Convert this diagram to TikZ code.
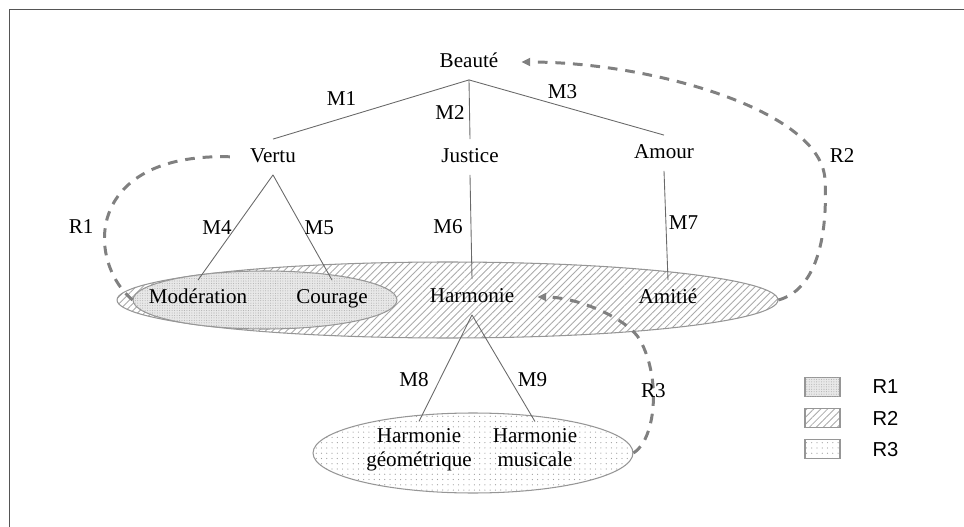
\documentclass[tikz,border=0pt]{standalone}
\usepackage{fontspec}
\setmainfont{Liberation Serif}
\newfontfamily\keyfont{Liberation Sans}
\usetikzlibrary{positioning, arrows.meta, shapes.geometric, patterns.meta}
\definecolor{FrameGrey}{RGB}{85, 85, 85}
\definecolor{LinkGrey}{RGB}{128, 128, 128}
\definecolor{TreeGrey}{RGB}{105, 105, 105}
\definecolor{EdgeGrey}{RGB}{150, 150, 150}
\definecolor{HatchGrey}{RGB}{170, 170, 170}
\definecolor{DotGrey}{RGB}{175, 175, 175}
\definecolor{SpeckGrey}{RGB}{160, 160, 160}
\definecolor{ShadeGrey}{RGB}{232, 232, 232}

\begin{document}
\begin{tikzpicture}[
    x=0.02cm, y=-0.02cm,
    % Global Styles
    concept/.style={
        font=\fontsize{12}{13.6}\selectfont,
        text height=9pt,
        text depth=3pt,
        inner sep=4pt
    },
    leaf/.style={
        font=\fontsize{12}{13.6}\selectfont,
        align=center,
        inner sep=4pt
    },
    tree_line/.style={
        draw=TreeGrey,
        line width=0.5pt
    },
    m_label/.style={
        font=\fontsize{12}{14}\selectfont,
        inner sep=1pt
    },
    r_link/.style={
        draw=LinkGrey,
        line width=1.7pt,
        dash pattern=on 5.5pt off 4.5pt
    },
    r_arrow/.style={
        r_link,
        -{Triangle[length=5pt,width=4.5pt]},
        shorten >=9pt
    },
    region/.style={
        ellipse,
        draw=EdgeGrey,      % Grey outline
        line width=0.6pt,
        inner sep=0pt
    },
    hatch_fill/.style={
        pattern={Lines[angle=45,distance=2.8pt,line width=0.5pt]},
        pattern color=HatchGrey
    },
    dense_fill/.style={
        fill=ShadeGrey,
        postaction={pattern={Dots[distance=1.4pt,radius=0.3pt]}, pattern color=DotGrey}
    },
    speck_fill/.style={
        pattern={Dots[distance=3pt,radius=0.35pt]},
        pattern color=SpeckGrey
    },
    key_box/.style={
        rectangle,
        draw=EdgeGrey,
        line width=0.6pt,
        minimum width=0.7cm,
        minimum height=0.38cm,
        inner sep=0pt
    },
    key_text/.style={
        font=\keyfont\fontsize{11.5}{14}\selectfont,
        inner sep=1pt
    },
    frame/.style={
        draw=FrameGrey,
        line width=0.9pt
    }
]

    \useasboundingbox (0,0) rectangle (964,527);
    \draw[frame] (9.5,560) |- (990,9.5);

    % --- Regions ---
    \node[region, hatch_fill, minimum width=13.22cm, minimum height=1.52cm] (region_two) at (447.5,300) {};
    \node[region, dense_fill, minimum width=5.28cm, minimum height=1.16cm] (region_one) at (265,300) {};
    \node[region, speck_fill, minimum width=6.4cm, minimum height=1.6cm] (region_three) at (473,453) {};

    % --- Placement of Nodes ---
    \node[concept] (beaute) at (469,62) {Beauté};

    % Second level
    \node[concept] (vertu) at (273,157) {Vertu};
    \node[concept] (justice) at (470,157) {Justice};
    \node[concept] (amour) at (664,153) {Amour};

    % Third level (inside the long ellipse)
    \node[concept] (moderation) at (198,298) {Modération};
    \node[concept] (courage) at (332,298) {Courage};
    \node[concept] (harmonie) at (472,297) {Harmonie};
    \node[concept] (amitie) at (668,298) {Amitié};

    % Bottom ellipse
    \node[leaf] (harm_geo) at (419,450) {Harmonie\\géométrique};
    \node[leaf] (harm_mus) at (535,448) {Harmonie\\musicale};

    % --- Tree Branches ---
    \draw[tree_line] (beaute.south) -- node[m_label, pos=0.65, above=6pt] {M1} (vertu.north);
    \draw[tree_line] (beaute.south) -- node[m_label, pos=0.55, left=1.5pt] {M2} (justice.north);
    \draw[tree_line] (beaute.south) -- node[m_label, pos=0.48, above=3pt] {M3} (amour.north);

    \draw[tree_line] (vertu.south) -- node[m_label, pos=0.5, left=1pt] {M4} (moderation.north);
    \draw[tree_line] (vertu.south) -- node[m_label, pos=0.5, right=0pt] {M5} (courage.north);
    \draw[tree_line] (justice.south) -- node[m_label, pos=0.5, left=3.5pt] {M6} (harmonie.north);
    \draw[tree_line] (amour.south) -- node[m_label, pos=0.47, right=0.5pt] {M7} (amitie.north);

    \draw[tree_line] (harmonie.south) -- node[m_label, pos=0.61, left=5pt] {M8} (harm_geo.north);
    \draw[tree_line] (harmonie.south) -- node[m_label, pos=0.61, right=3pt] {M9} (harm_mus.north);

    % --- Dashed Returns ---

    % 1. R1 (left loop up to Vertu)
    \draw[r_link] (region_one.west) .. controls (85,260) and (85,150) .. ([xshift=-4pt]vertu.west)
        node[m_label, pos=0.42, left=5pt] {R1};

    % 2. R2 (right loop up to Beaute)
    \draw[r_arrow] (region_two.east) .. controls (815,290) and (828,240) .. (825,180)
        .. controls (822,110) and (650,62) .. (beaute.east)
        node[m_label, pos=0.12, right=5.5pt] {R2};

    % 3. R3 (bottom ellipse back to Harmonie)
    \draw[r_arrow] (region_three.east) .. controls (655,440) and (662,380) .. (640,340)
        node[m_label, pos=0.62] {R3}
        .. controls (629,320) and (580,297) .. (harmonie.east);

    % --- Legend ---
    \node[key_box, dense_fill] (key_one) at (822.5,387) {};
    \node[key_box, hatch_fill, below=0.22cm of key_one] (key_two) {};
    \node[key_box, speck_fill, below=0.22cm of key_two] (key_three) {};

    \node[key_text, right=0.6cm of key_one] (key_one_text) {R1};
    \node[key_text, right=0.6cm of key_two] (key_two_text) {R2};
    \node[key_text, right=0.6cm of key_three] (key_three_text) {R3};

\end{tikzpicture}
\end{document}
